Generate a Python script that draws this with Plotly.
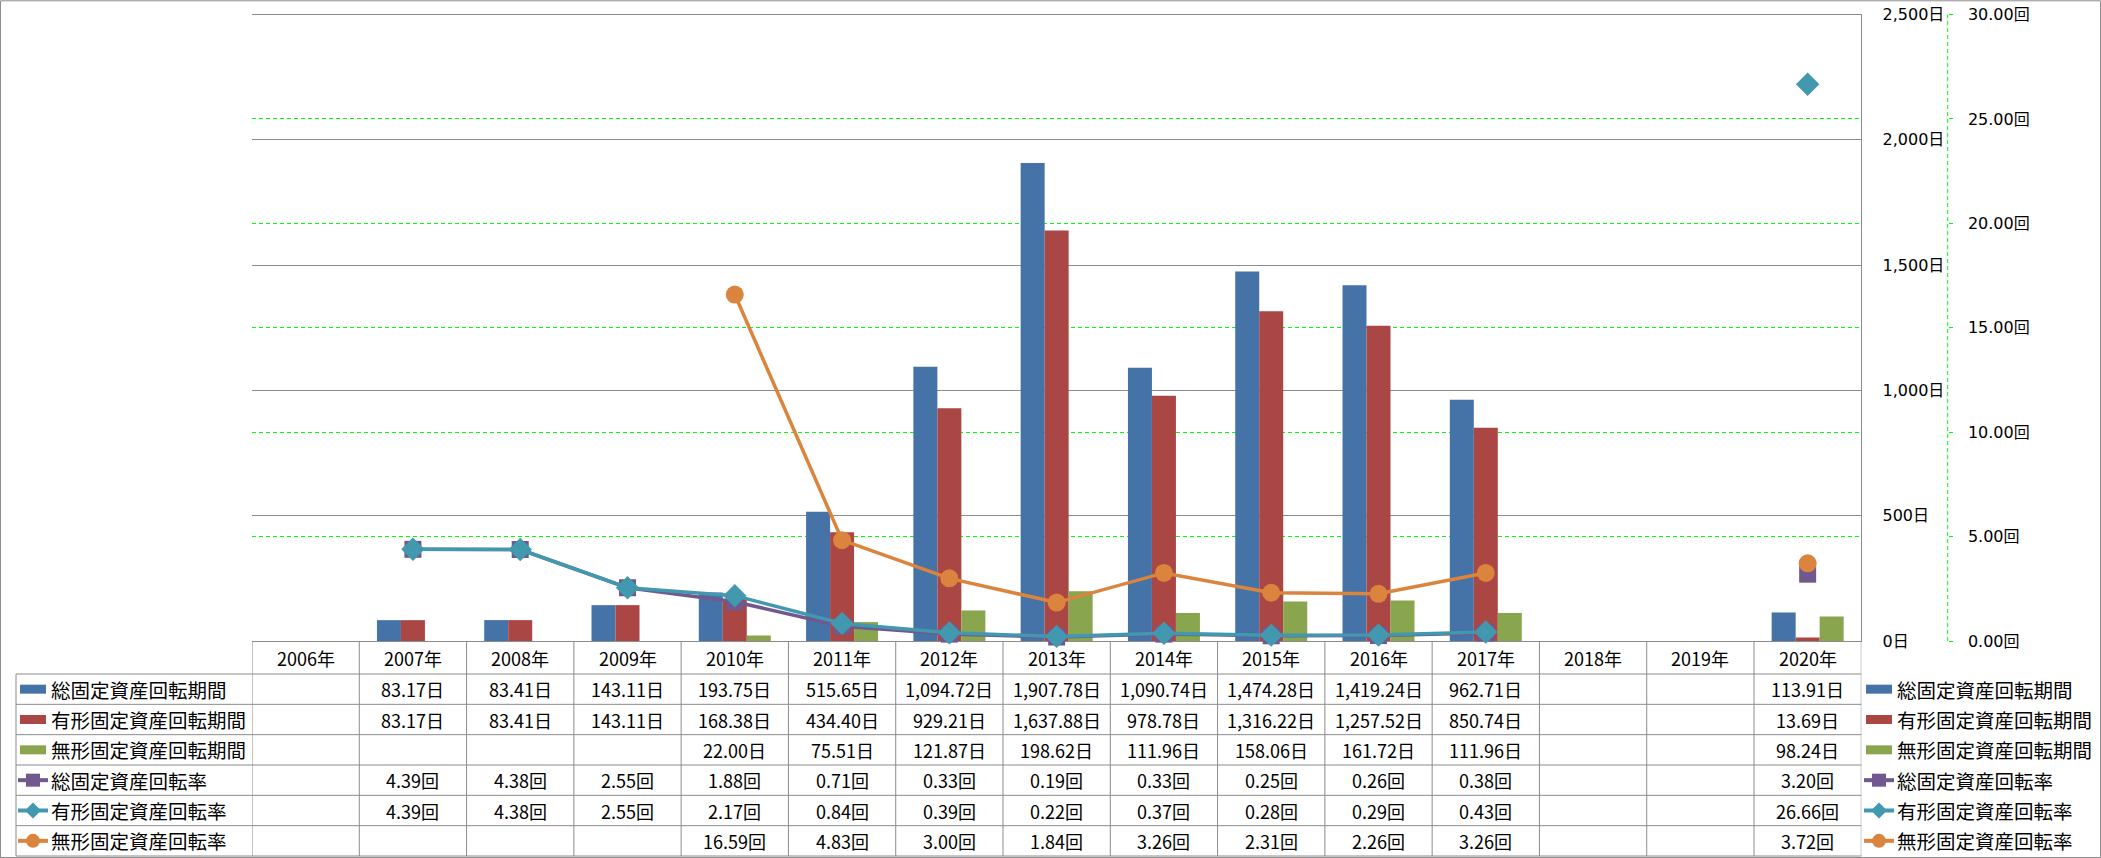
import plotly.graph_objects as go

# ---------------- data ----------------
years = ["2006年", "2007年", "2008年", "2009年", "2010年", "2011年", "2012年", "2013年",
         "2014年", "2015年", "2016年", "2017年", "2018年", "2019年", "2020年"]

total_period = [None, 83.17, 83.41, 143.11, 193.75, 515.65, 1094.72, 1907.78, 1090.74,
                1474.28, 1419.24, 962.71, None, None, 113.91]
tangible_period = [None, 83.17, 83.41, 143.11, 168.38, 434.40, 929.21, 1637.88, 978.78,
                   1316.22, 1257.52, 850.74, None, None, 13.69]
intangible_period = [None, None, None, None, 22.00, 75.51, 121.87, 198.62, 111.96,
                     158.06, 161.72, 111.96, None, None, 98.24]
total_rate = [None, 4.39, 4.38, 2.55, 1.88, 0.71, 0.33, 0.19, 0.33, 0.25, 0.26, 0.38,
              None, None, 3.20]
tangible_rate = [None, 4.39, 4.38, 2.55, 2.17, 0.84, 0.39, 0.22, 0.37, 0.28, 0.29, 0.43,
                 None, None, 26.66]
intangible_rate = [None, None, None, None, 16.59, 4.83, 3.00, 1.84, 3.26, 2.31, 2.26, 3.26,
                   None, None, 3.72]

bar_names = ["総固定資産回転期間", "有形固定資産回転期間", "無形固定資産回転期間"]
line_names = ["総固定資産回転率", "有形固定資産回転率", "無形固定資産回転率"]
period_suffix = "日"
rate_suffix = "回"

# ---------------- style ----------------
W, H = 2101, 858
BLUE, RED, GREEN = "#4572A7", "#AA4643", "#89A54E"
PURPLE, TEAL, ORANGE = "#71588F", "#4198AF", "#DB843D"
GRID = "#8c8c8c"
LIME = "#00ff00"
TXT_FONT = "Noto Sans CJK JP"
AX_FONT = "DejaVu Sans, Noto Sans CJK JP"

PLOT_L, PLOT_R, PLOT_T, PLOT_B = 252, 1861.3, 14.5, 641
AX2_X = 1947.7


def X(px):
    return px / W


def Y(py):
    return 1 - py / H


fig = go.Figure()

bar_vals = [total_period, tangible_period, intangible_period]
bar_cols = [BLUE, RED, GREEN]
for name, vals, col in zip(bar_names, bar_vals, bar_cols):
    fig.add_trace(go.Bar(x=years, y=vals, name=name, marker=dict(color=col, line=dict(width=0)),
                         yaxis="y", showlegend=False))

line_vals = [total_rate, tangible_rate, intangible_rate]
line_cols = [PURPLE, TEAL, ORANGE]
line_syms = ["square", "diamond", "circle"]
line_sizes = [17, 18, 18]
for name, vals, col, sym, sz in zip(line_names, line_vals, line_cols, line_syms, line_sizes):
    fig.add_trace(go.Scatter(x=years, y=vals, name=name, mode="lines+markers", yaxis="y2",
                             line=dict(color=col, width=3.5),
                             marker=dict(symbol=sym, size=sz, color=col),
                             connectgaps=False, cliponaxis=False, showlegend=False))

shapes = []
annotations = []

# outer chart border
shapes.append(dict(type="rect", xref="paper", yref="paper", x0=X(0.5), x1=X(2100.5),
                   y0=Y(857.5), y1=Y(0.8), line=dict(color=GRID, width=1), layer="below"))

# secondary axis dashed line
shapes.append(dict(type="line", xref="paper", yref="paper", x0=X(AX2_X), x1=X(AX2_X),
                   y0=Y(PLOT_B), y1=Y(PLOT_T), line=dict(color=LIME, width=1, dash="4px,3px")))

# ---------------- data table ----------------
TBL_L = 16
HDR_TOP, HDR_BOT = 641, 674
ROW_H = (856 - 674) / 6
row_edges = [HDR_BOT + ROW_H * k for k in range(7)]
row_centers = [(row_edges[k] + row_edges[k + 1]) / 2 for k in range(6)]
TLINE = dict(color=GRID, width=1)

for yy in row_edges:
    shapes.append(dict(type="line", xref="paper", yref="paper", x0=X(TBL_L), x1=X(PLOT_R),
                       y0=Y(yy), y1=Y(yy), line=TLINE, layer="below"))
shapes.append(dict(type="line", xref="paper", yref="paper", x0=X(TBL_L), x1=X(TBL_L),
                   y0=Y(HDR_BOT), y1=Y(row_edges[-1]), line=TLINE, layer="below"))
for i in range(len(years) + 1):
    shapes.append(dict(type="line", xref="x", yref="paper", x0=i - 0.5, x1=i - 0.5,
                       y0=Y(HDR_TOP), y1=Y(row_edges[-1]), line=TLINE, layer="below"))

# header
for yr in years:
    annotations.append(dict(xref="x", yref="paper", x=yr, y=Y((HDR_TOP + HDR_BOT) / 2 + 0.5),
                            text=yr, showarrow=False, xanchor="center", yanchor="middle",
                            font=dict(family=TXT_FONT, size=18, color="#000")))

all_rows = bar_vals + line_vals
suffixes = [period_suffix] * 3 + [rate_suffix] * 3
for r, (vals, suf) in enumerate(zip(all_rows, suffixes)):
    for yr, v in zip(years, vals):
        if v is None:
            continue
        annotations.append(dict(xref="x", yref="paper", x=yr, y=Y(row_centers[r]),
                                text=f"{v:,.2f}{suf}", showarrow=False, xanchor="center",
                                yanchor="middle", font=dict(family=TXT_FONT, size=18, color="#000")))

# legend keys (table left column and right legend)
all_names = bar_names + line_names
all_cols = bar_cols + line_cols


def add_key(x0, yc, k):
    col = all_cols[k]
    if k < 3:
        shapes.append(dict(type="rect", xref="paper", yref="paper", x0=X(x0), x1=X(x0 + 26),
                           y0=Y(yc + 4.5), y1=Y(yc - 4.5), fillcolor=col, line=dict(width=0)))
    else:
        shapes.append(dict(type="line", xref="paper", yref="paper", x0=X(x0 - 2), x1=X(x0 + 28),
                           y0=Y(yc), y1=Y(yc), line=dict(color=col, width=4)))
        cx = x0 + 13
        sym = line_syms[k - 3]
        if sym == "square":
            shapes.append(dict(type="rect", xref="paper", yref="paper", x0=X(cx - 7), x1=X(cx + 7),
                               y0=Y(yc + 6.5), y1=Y(yc - 6.5), fillcolor=col, line=dict(width=0)))
        elif sym == "diamond":
            p = (f"M {X(cx - 8)},{Y(yc)} L {X(cx)},{Y(yc - 8)} L {X(cx + 8)},{Y(yc)} "
                 f"L {X(cx)},{Y(yc + 8)} Z")
            shapes.append(dict(type="path", xref="paper", yref="paper", path=p, fillcolor=col,
                               line=dict(width=0)))
        else:
            shapes.append(dict(type="circle", xref="paper", yref="paper", x0=X(cx - 7), x1=X(cx + 7),
                               y0=Y(yc + 7), y1=Y(yc - 7), fillcolor=col, line=dict(width=0)))


for k, name in enumerate(all_names):
    yc = row_centers[k]
    add_key(20, yc, k)
    annotations.append(dict(xref="paper", yref="paper", x=X(49), y=Y(yc), text=name,
                            showarrow=False, xanchor="left", yanchor="middle",
                            font=dict(family=TXT_FONT, size=19.5, color="#000")))
    add_key(1866, yc, k)
    annotations.append(dict(xref="paper", yref="paper", x=X(1895), y=Y(yc), text=name,
                            showarrow=False, xanchor="left", yanchor="middle",
                            font=dict(family=TXT_FONT, size=19.5, color="#000")))

fig.update_layout(
    template="none",
    width=W, height=H,
    margin=dict(l=0, r=0, t=0, b=0, pad=0),
    paper_bgcolor="white", plot_bgcolor="white",
    barmode="group", bargap=0.329, bargroupgap=0,
    showlegend=False,
    xaxis=dict(domain=[X(PLOT_L), X(PLOT_R)], type="category", showticklabels=False,
               ticks="", showgrid=False, zeroline=False, showline=True, mirror=True,
               linecolor=GRID, linewidth=1, layer="below traces", automargin=False,
               range=[-0.5, len(years) - 0.5]),
    yaxis=dict(domain=[Y(PLOT_B), Y(PLOT_T)], range=[0, 2500], dtick=500, tick0=0,
               side="right", showline=True, linecolor=GRID, linewidth=1,
               showgrid=True, gridcolor=GRID, gridwidth=1, zeroline=False,
               tickformat=",d", ticksuffix="日", ticks="", ticklabelstandoff=17,
               tickfont=dict(family=AX_FONT, size=16, color="#000"), automargin=False,
               layer="below traces"),
    yaxis2=dict(overlaying="y", anchor="free", position=X(AX2_X), side="right",
                range=[0, 30], dtick=5, tick0=0, showline=False,
                showgrid=True, gridcolor=LIME, gridwidth=1, griddash="4px,3px", zeroline=False,
                tickformat=".2f", ticksuffix="回", ticks="outside", ticklen=4, tickcolor=LIME,
                ticklabelstandoff=12,
                tickfont=dict(family=AX_FONT, size=16, color="#000"), automargin=False,
                layer="below traces"),
    shapes=shapes,
    annotations=annotations,
)

fig.write_html("out.html")
